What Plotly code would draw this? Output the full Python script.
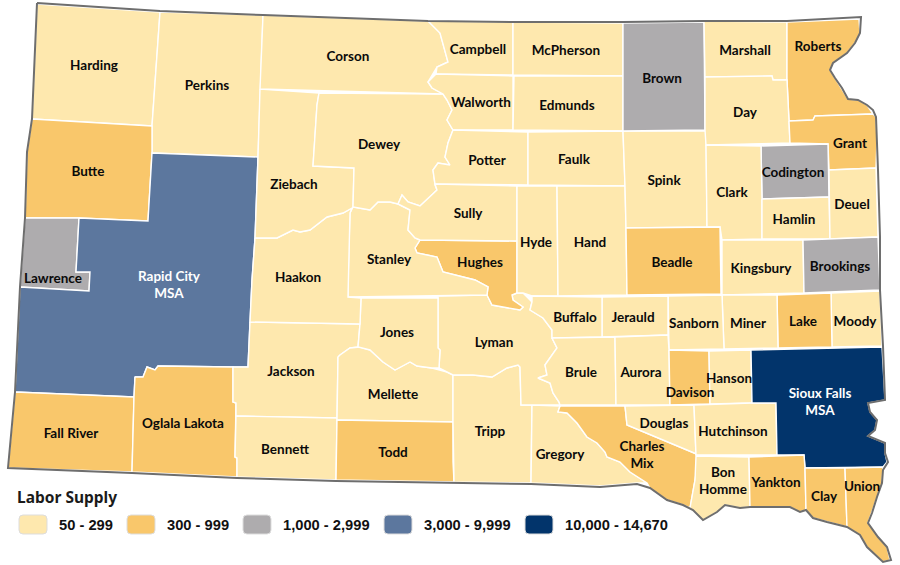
import plotly.graph_objects as go

# class index: 0 = 50-299, 1 = 300-999, 2 = 1,000-2,999, 3 = 3,000-9,999, 4 = 10,000-14,670
class_labels = ["50 - 299", "300 - 999", "1,000 - 2,999", "3,000 - 9,999", "10,000 - 14,670"]
class_colours = ["#FEE8AE", "#F9C76B", "#AEACAE", "#5C779E", "#02346B"]

# county outlines, pixel coordinates
outlines = {
    "Harding": [(37, 4), (160, 12), (152, 126), (32, 119)],
    "Perkins": [(160, 12), (263, 15), (258, 157), (152, 153), (152, 126)],
    "Butte": [(32, 119), (152, 126), (152, 153), (148, 221), (79, 218), (25, 218), (27, 152)],
    "Lawrence": [(25, 218), (79, 218), (76, 272), (90, 272), (89, 291), (20, 287)],
    "Rapid City": [(79, 218), (148, 221), (152, 153), (258, 157), (255, 238), (252, 280), (250, 322), (248, 367),
                   (240, 367), (233, 367), (158, 366), (155, 370), (147, 367), (143, 377), (135, 377), (134, 397),
                   (15, 392), (20, 287), (89, 291), (90, 272), (76, 272)],
    "Fall River": [(15, 392), (134, 397), (132, 472), (8, 468)],
    "Oglala Lakota": [(135, 377), (143, 377), (147, 367), (155, 370), (158, 366), (233, 367), (233, 402), (236, 403),
                      (235, 457), (237, 458), (237, 477), (132, 472), (134, 397)],
    "Jackson": [(250, 322), (360, 324), (358, 347), (350, 348), (340, 355), (338, 357), (337, 418), (236, 416),
                (236, 403), (233, 402), (233, 367), (248, 367)],
    "Bennett": [(236, 416), (337, 418), (336, 480), (237, 477), (237, 458), (235, 457)],
    "Mellette": [(338, 357), (340, 355), (350, 348), (360, 347), (370, 350), (383, 362), (395, 370), (410, 362),
                 (417, 366), (432, 368), (447, 372), (453, 375), (453, 408), (453, 422), (337, 420)],
    "Todd": [(337, 420), (453, 422), (453, 462), (454, 482), (336, 480)],
    "Tripp": [(453, 375), (473, 375), (492, 377), (507, 368), (518, 365), (520, 367), (521, 405), (532, 405),
              (531, 483), (454, 482), (453, 422)],
    "Gregory": [(532, 405), (560, 406), (558, 412), (567, 413), (577, 423), (587, 437), (597, 443), (605, 452),
                (607, 457), (620, 462), (630, 472), (647, 483), (637, 483), (600, 486), (531, 483)],
    "Charles Mix": [(560, 406), (625, 406), (627, 425), (699, 455), (695, 480), (690, 508), (683, 505), (667, 500),
                    (650, 488), (647, 483), (630, 472), (620, 462), (607, 457), (605, 452), (597, 443), (587, 437),
                    (577, 423), (567, 413), (558, 412)],
    "Lyman": [(438, 296), (487, 295), (492, 305), (507, 308), (520, 310), (523, 307), (513, 300), (512, 295),
              (517, 293), (523, 293), (532, 302), (530, 310), (543, 318), (552, 330), (552, 338), (557, 348),
              (545, 365), (547, 375), (538, 378), (550, 383), (553, 393), (559, 402), (560, 405), (521, 405),
              (520, 367), (518, 365), (507, 368), (492, 377), (473, 375), (453, 375), (447, 372), (439, 368),
              (440, 350), (438, 348)],
    "Hughes": [(420, 240), (517, 241), (517, 293), (512, 295), (513, 300), (523, 307), (520, 310), (507, 308),
               (492, 305), (487, 295), (488, 287), (475, 280), (443, 272), (437, 257), (417, 253), (415, 248)],
    "Stanley": [(353, 207), (370, 210), (378, 202), (390, 202), (398, 204), (410, 210), (408, 230), (415, 238),
                (420, 240), (415, 248), (417, 253), (437, 257), (443, 272), (475, 280), (488, 287), (487, 295),
                (348, 297), (348, 280), (350, 213)],
    "Jones": [(361, 298), (438, 298), (438, 348), (440, 350), (439, 368), (432, 368), (417, 366), (410, 362),
              (395, 370), (383, 362), (370, 350), (360, 347), (358, 347), (360, 324)],
    "Haakon": [(255, 238), (277, 238), (293, 230), (300, 232), (310, 230), (327, 217), (343, 213), (352, 208),
               (350, 213), (348, 280), (348, 297), (361, 298), (360, 324), (250, 322), (252, 280)],
    "Ziebach": [(260, 89), (319, 93), (317, 105), (313, 166), (354, 168), (353, 207), (352, 208), (343, 213),
                (327, 217), (310, 230), (300, 232), (293, 230), (277, 238), (255, 238), (258, 157)],
    "Dewey": [(319, 93), (443, 94), (447, 100), (452, 110), (447, 120), (453, 130), (448, 143), (445, 157),
              (450, 165), (438, 163), (433, 170), (435, 185), (437, 190), (420, 206), (408, 202), (402, 195),
              (398, 204), (390, 202), (378, 202), (370, 210), (353, 207), (354, 168), (313, 166), (317, 105)],
    "Corson": [(263, 15), (428, 21), (440, 33), (448, 62), (437, 67), (428, 82), (432, 88), (443, 94), (260, 89)],
    "Campbell": [(428, 21), (513, 22), (513, 75), (436, 74), (437, 67), (448, 62), (440, 33)],
    "McPherson": [(513, 22), (623, 23), (623, 76), (513, 75)],
    "Walworth": [(436, 74), (513, 76), (513, 130), (453, 130), (447, 120), (452, 110), (447, 100), (443, 94),
                 (432, 88), (428, 82)],
    "Edmunds": [(514, 76), (623, 76), (623, 131), (513, 130)],
    "Potter": [(453, 130), (528, 132), (528, 185), (435, 184), (433, 170), (438, 163), (450, 165), (445, 157),
               (448, 143)],
    "Faulk": [(528, 132), (623, 131), (625, 186), (528, 185)],
    "Sully": [(435, 184), (517, 186), (517, 241), (420, 240), (415, 238), (408, 230), (410, 210), (398, 204),
              (402, 195), (408, 202), (420, 206), (437, 190)],
    "Hyde": [(517, 186), (557, 186), (558, 296), (532, 296), (523, 293), (517, 293)],
    "Hand": [(557, 186), (625, 186), (626, 228), (627, 295), (558, 296)],
    "Spink": [(623, 131), (706, 131), (707, 227), (626, 228), (625, 186)],
    "Brown": [(623, 23), (704, 22), (705, 130), (623, 131)],
    "Marshall": [(704, 21), (787, 22), (787, 80), (773, 80), (772, 76), (705, 77)],
    "Roberts": [(787, 22), (859, 19), (860, 33), (855, 43), (847, 53), (833, 63), (830, 70), (835, 78), (842, 88),
                (848, 99), (858, 100), (867, 105), (873, 114), (815, 116), (813, 120), (789, 121), (787, 80)],
    "Day": [(705, 77), (772, 76), (773, 80), (787, 80), (789, 121), (790, 143), (706, 145), (705, 130)],
    "Grant": [(789, 121), (813, 120), (815, 116), (873, 114), (876, 117), (877, 140), (876, 168), (829, 170),
              (828, 144), (790, 143)],
    "Codington": [(761, 146), (828, 144), (829, 197), (762, 199)],
    "Clark": [(706, 145), (761, 146), (762, 199), (762, 239), (722, 240), (720, 227), (707, 227)],
    "Hamlin": [(762, 199), (829, 197), (830, 239), (762, 239)],
    "Deuel": [(829, 170), (876, 168), (878, 237), (830, 239)],
    "Beadle": [(626, 228), (720, 227), (721, 294), (627, 295)],
    "Kingsbury": [(722, 240), (803, 240), (804, 293), (722, 295)],
    "Brookings": [(803, 240), (878, 237), (880, 290), (804, 293)],
    "Moody": [(831, 293), (880, 291), (882, 346), (832, 347)],
    "Lake": [(777, 295), (831, 293), (832, 347), (778, 348)],
    "Miner": [(722, 295), (777, 295), (778, 348), (724, 349)],
    "Sanborn": [(668, 296), (722, 295), (724, 349), (669, 350)],
    "Jerauld": [(602, 297), (668, 296), (668, 335), (615, 337), (602, 337)],
    "Buffalo": [(532, 296), (602, 297), (602, 337), (552, 338), (552, 330), (543, 318), (530, 310), (532, 302)],
    "Brule": [(552, 338), (615, 337), (616, 405), (560, 405), (559, 402), (553, 393), (550, 383), (538, 378),
              (547, 375), (545, 365), (557, 348)],
    "Aurora": [(615, 337), (668, 335), (669, 350), (670, 405), (616, 405)],
    "Davison": [(669, 350), (709, 351), (710, 404), (670, 405)],
    "Hanson": [(709, 351), (751, 350), (752, 403), (710, 404)],
    "Douglas": [(625, 406), (694, 405), (696, 455), (699, 455), (627, 425)],
    "Hutchinson": [(694, 405), (752, 403), (776, 403), (777, 455), (696, 455)],
    "Sioux Falls": [(751, 350), (882, 347), (885, 400), (868, 403), (870, 412), (877, 420), (875, 430), (868, 436),
                    (885, 443), (885, 453), (887, 462), (883, 467), (805, 468), (804, 455), (777, 455), (776, 403),
                    (752, 403)],
    "Bon Homme": [(696, 456), (749, 457), (750, 507), (740, 508), (725, 505), (717, 512), (703, 520), (693, 510),
                  (690, 508), (695, 480)],
    "Yankton": [(749, 457), (804, 455), (805, 468), (806, 510), (800, 512), (790, 507), (773, 507), (750, 507)],
    "Clay": [(805, 468), (845, 468), (847, 527), (827, 522), (813, 518), (806, 510)],
    "Union": [(845, 468), (883, 467), (882, 483), (877, 497), (872, 513), (868, 523), (878, 537), (887, 547),
              (890, 560), (883, 562), (867, 547), (860, 535), (847, 527)],
}

orange_counties = ["Butte", "Fall River", "Oglala Lakota", "Todd", "Charles Mix", "Hughes", "Beadle", "Roberts",
                   "Grant", "Lake", "Davison", "Yankton", "Clay", "Union"]
grey_counties = ["Lawrence", "Brown", "Codington", "Brookings"]
mid_blue_counties = ["Rapid City"]
navy_counties = ["Sioux Falls"]

state_border = [(37, 3), (160, 11), (263, 15), (428, 21), (513, 22), (623, 22), (704, 21), (787, 21), (861, 17),
                (860, 33), (855, 43), (847, 53), (833, 63), (830, 70), (835, 78), (842, 88), (848, 99), (858, 100),
                (867, 105), (873, 110), (876, 117), (877, 140), (878, 170), (880, 237), (880, 290), (883, 346),
                (885, 400), (868, 403), (870, 412), (877, 420), (875, 430), (868, 436), (885, 443), (885, 453),
                (888, 462), (883, 470), (882, 483), (877, 497), (872, 513), (868, 523), (878, 537), (887, 547),
                (891, 560), (883, 562), (867, 547), (860, 535), (847, 527), (827, 522), (813, 518), (806, 510),
                (800, 512), (790, 507), (773, 507), (750, 507), (740, 508), (725, 505), (717, 512), (703, 520),
                (693, 510), (683, 505), (667, 500), (650, 488), (637, 484), (600, 487), (531, 484), (454, 483),
                (336, 481), (237, 478), (132, 473), (8, 468), (15, 392), (20, 287), (25, 218), (27, 152), (32, 119),
                (37, 3)]

# label text with its position
black_labels = [
    ("Harding", 94, 67), ("Perkins", 207, 87), ("Butte", 88, 173), ("Lawrence", 53, 280), ("Fall River", 71, 435),
    ("Oglala Lakota", 183, 425), ("Corson", 348, 58), ("Campbell", 478, 51), ("McPherson", 566, 52),
    ("Walworth", 481, 104), ("Edmunds", 567, 107), ("Potter", 487, 162), ("Faulk", 574, 161), ("Sully", 468, 215),
    ("Hyde", 536, 244), ("Hand", 590, 244), ("Stanley", 389, 261), ("Hughes", 480, 264), ("Dewey", 379, 146),
    ("Ziebach", 294, 186), ("Haakon", 298, 279), ("Jackson", 291, 373), ("Jones", 397, 334), ("Mellette", 393, 396),
    ("Bennett", 285, 451), ("Todd", 393, 454), ("Lyman", 494, 344), ("Tripp", 490, 433), ("Gregory", 560, 456),
    ("Buffalo", 575, 319), ("Jerauld", 633, 319), ("Brule", 581, 374), ("Aurora", 641, 374), ("Sanborn", 694, 325),
    ("Miner", 748, 325), ("Lake", 803, 323), ("Moody", 855, 323), ("Kingsbury", 761, 270), ("Beadle", 672, 264),
    ("Brookings", 840, 268), ("Spink", 664, 182), ("Clark", 732, 194), ("Codington", 793, 174), ("Hamlin", 794, 221),
    ("Deuel", 852, 206), ("Grant", 850, 145), ("Day", 745, 114), ("Brown", 662, 80), ("Marshall", 745, 52),
    ("Roberts", 818, 48), ("Davison", 690, 394), ("Hanson", 729, 380), ("Douglas", 664, 425),
    ("Hutchinson", 733, 433), ("Charles<br>Mix", 642, 456), ("Bon<br>Homme", 723, 482),
    ("Yankton", 776, 484), ("Clay", 824, 498), ("Union", 862, 488),
]
white_labels = [("Rapid City<br>MSA", 169, 286), ("Sioux Falls<br>MSA", 820, 403)]

legend_left = [19, 127, 243, 384, 525]


def county_colour(name):
    if name in orange_counties:
        return class_colours[1]
    if name in grey_counties:
        return class_colours[2]
    if name in mid_blue_counties:
        return class_colours[3]
    if name in navy_counties:
        return class_colours[4]
    return class_colours[0]


fig = go.Figure()

for name, points in outlines.items():
    xs = [p[0] for p in points] + [points[0][0]]
    ys = [p[1] for p in points] + [points[0][1]]
    fig.add_trace(
        go.Scatter(
            x=xs,
            y=ys,
            mode="lines",
            fill="toself",
            fillcolor=county_colour(name),
            line={"color": "white", "width": 1.4},
            name=name,
            hoverinfo="name",
            showlegend=False,
        )
    )

fig.add_trace(
    go.Scatter(
        x=[p[0] for p in state_border],
        y=[p[1] for p in state_border],
        mode="lines",
        line={"color": "#6E6E6E", "width": 2},
        hoverinfo="skip",
        showlegend=False,
    )
)

for labels, colour in ((black_labels, "#0A0A0A"), (white_labels, "white")):
    fig.add_trace(
        go.Scatter(
            x=[l[1] for l in labels],
            y=[l[2] for l in labels],
            text=[l[0] for l in labels],
            mode="text",
            textposition="middle center",
            textfont={"family": "Lato", "size": 13.5, "color": colour, "weight": 700},
            hoverinfo="skip",
            showlegend=False,
        )
    )

# legend: rounded swatches with text to the right
fig.add_annotation(
    x=15, y=497, text="<b>Labor Supply</b>", showarrow=False, xanchor="left", yanchor="middle",
    font={"family": "Noto Sans", "size": 15.5, "color": "#1A1A1A"},
)
for left, colour, label in zip(legend_left, class_colours, class_labels):
    right = left + 28
    top, bottom, r = 515, 534, 4
    fig.add_shape(
        type="path",
        path=(
            f"M {left + r} {top} L {right - r} {top} Q {right} {top} {right} {top + r} "
            f"L {right} {bottom - r} Q {right} {bottom} {right - r} {bottom} "
            f"L {left + r} {bottom} Q {left} {bottom} {left} {bottom - r} "
            f"L {left} {top + r} Q {left} {top} {left + r} {top} Z"
        ),
        fillcolor=colour,
        line={"color": "#DDDDDD", "width": 1},
    )
    fig.add_annotation(
        x=right + 10, y=525, text=f"<b>{label}</b>", showarrow=False, xanchor="left", yanchor="middle",
        font={"family": "Liberation Sans", "size": 14.7, "color": "#111111"},
    )

fig.update_xaxes(range=[0, 900], visible=False, fixedrange=True)
fig.update_yaxes(range=[565, 0], visible=False, fixedrange=True)
fig.update_layout(
    width=900,
    height=565,
    margin={"l": 0, "r": 0, "t": 0, "b": 0},
    paper_bgcolor="white",
    plot_bgcolor="white",
)
# the page's default body margin would push the map 8px off
fig.write_html("out.html", config={"displayModeBar": False}, post_script="document.body.style.margin = '0';")
